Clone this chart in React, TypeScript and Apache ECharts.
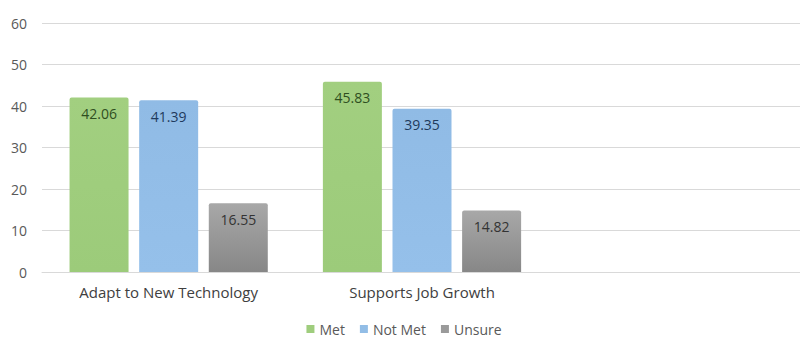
import React, { useEffect, useRef } from "react";
import * as echarts from "echarts";

const categories = ["Adapt to New Technology", "Supports Job Growth", ""];
const metValues: (number | null)[] = [42.06, 45.83, null];
const notMetValues: (number | null)[] = [41.39, 39.35, null];
const unsureValues: (number | null)[] = [16.55, 14.82, null];
const yTicks = { min: 0, max: 60, interval: 10 };

const font = "'Open Sans', 'Noto Sans', sans-serif";

function grad(top: string, bottom: string) {
  return new echarts.graphic.LinearGradient(0, 0, 0, 1, [
    { offset: 0, color: top },
    { offset: 1, color: bottom },
  ]);
}

export default function App() {
  const ref = useRef<HTMLDivElement>(null);
  useEffect(() => {
    if (!ref.current) return;
    const chart = echarts.init(ref.current, undefined, { renderer: "svg" });
    const label = (color: string) => ({
      show: true,
      position: "insideTop" as const,
      distance: 9,
      color,
      fontSize: 14,
      fontFamily: font,
      formatter: (p: any) => Number(p.value).toFixed(2),
    });
    const mk = (name: string, data: (number | null)[], color: any, lc: string) => ({
      name,
      type: "bar" as const,
      data,
      barWidth: 59,
      barGap: "18%",
      itemStyle: { color, borderRadius: [2, 2, 0, 0] },
      label: label(lc),
    });
    chart.setOption({
      animation: false,
      backgroundColor: "#ffffff",
      grid: { left: 42, right: 6, top: 23, bottom: 78, containLabel: false },
      legend: {
        bottom: 9,
        left: "center",
        itemWidth: 8,
        itemHeight: 8,
        itemGap: 15,
        icon: "rect",
        textStyle: { color: "#595959", fontSize: 14, fontFamily: font },
        data: [
          { name: "Met", itemStyle: { color: "#9fcd7d" } },
          { name: "Not Met", itemStyle: { color: "#92bde6" } },
          { name: "Unsure", itemStyle: { color: "#9a9a9a" } },
        ],
      },
      xAxis: {
        type: "category",
        data: categories,
        axisLine: { show: true, lineStyle: { color: "#d9d9d9", width: 1 } },
        axisTick: { show: false },
        axisLabel: {
          color: "#404040",
          fontSize: 15,
          fontFamily: font,
          margin: 12,
          interval: 0,
        },
      },
      yAxis: {
        type: "value",
        min: yTicks.min,
        max: yTicks.max,
        interval: yTicks.interval,
        axisLine: { show: false },
        axisTick: { show: false },
        splitLine: { lineStyle: { color: "#d9d9d9", width: 1 } },
        axisLabel: {
          color: "#595959",
          fontSize: 14,
          fontFamily: font,
          margin: 15,
        },
      },
      series: [
        mk("Met", metValues, grad("#a2cf80", "#9ccb7a"), "#2f4f1f"),
        mk("Not Met", notMetValues, grad("#90bbe5", "#95c0ea"), "#1f3a5c"),
        mk("Unsure", unsureValues, grad("#a8a8a8", "#878787"), "#333333"),
      ],
    });
    return () => chart.dispose();
  }, []);
  return <div ref={ref} style={{ width: 808, height: 350, margin: -8 }} />;
}
